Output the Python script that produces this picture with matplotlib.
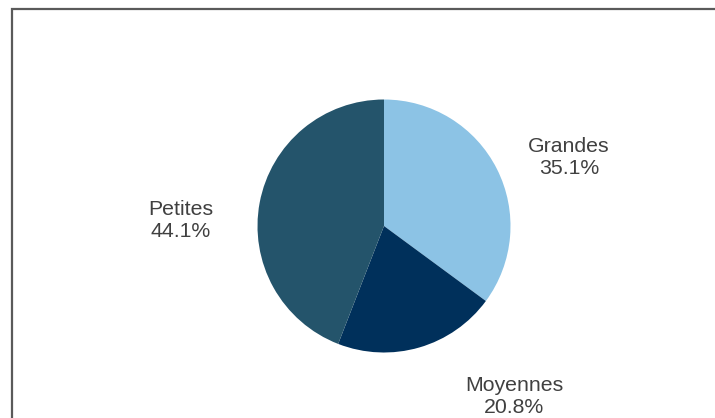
import matplotlib
matplotlib.use("Agg")
import matplotlib.pyplot as plt
from matplotlib.patches import Rectangle

categories = ["Grandes", "Moyennes", "Petites"]
shares = [35.1, 20.8, 44.1]
colors = ["#8CC3E5", "#00305B", "#24546B"]

W, H, DPI = 715, 418, 100
fig = plt.figure(figsize=(W / DPI, H / DPI), dpi=DPI)
fig.patch.set_facecolor("white")

# frame (top-left at 12,9; continues beyond the image)
fig.patches.append(Rectangle((12 / W, -0.1), 1.2, (H - 9) / H + 0.1, transform=fig.transFigure,
                             fill=False, edgecolor="#5a5a5a", linewidth=1.6))

cx, cy, r = 384, 226, 126.5
ax = fig.add_axes([(cx - r) / W, (H - cy - r) / H, 2 * r / W, 2 * r / H])
ax.pie(shares, colors=colors, startangle=90, counterclock=False, radius=1,
       wedgeprops=dict(linewidth=0))
ax.set_xlim(-1, 1)
ax.set_ylim(-1, 1)
ax.set_aspect("equal")
ax.axis("off")

label_pos = {"Grandes": (1.462, 0.545), "Moyennes": (1.028, -1.345), "Petites": (-1.605, 0.045)}
for cat, val in zip(categories, shares):
    x, y = label_pos[cat]
    ax.text(x, y, f"{cat}\n{val:.1f}%", ha="center", va="center", fontsize=15.3,
            family="Liberation Sans", color="#404040", linespacing=1.2, clip_on=False)

fig.savefig("out.png", dpi=DPI)
